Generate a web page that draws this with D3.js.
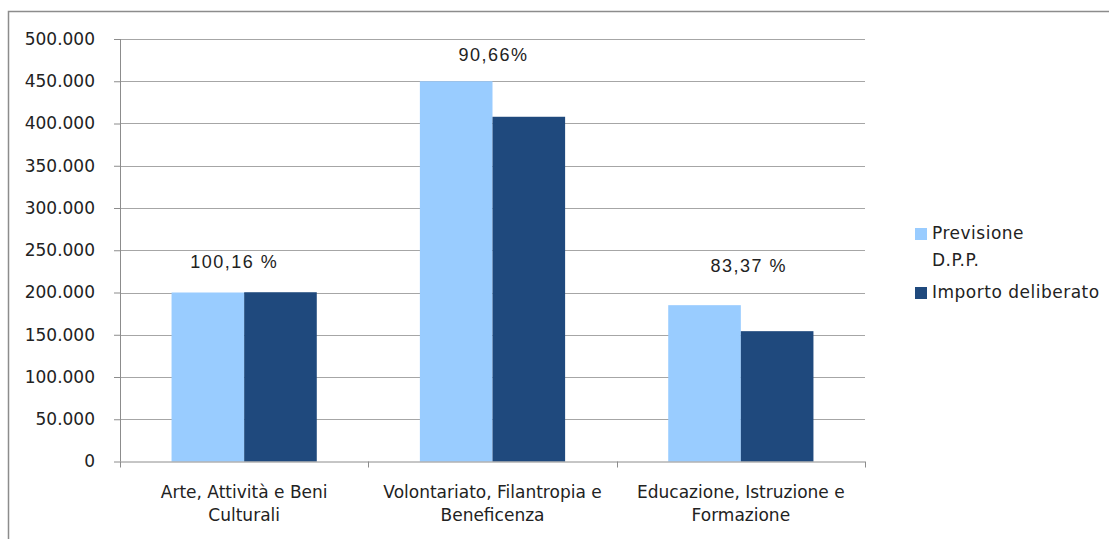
<!DOCTYPE html>
<html>
<head>
<meta charset="utf-8">
<script src="https://cdn.jsdelivr.net/npm/d3@7"></script>
<style>
  body { margin: 0; background: #fff; }
  .axis text { font-family: "DejaVu Sans", sans-serif; font-size: 17px; fill: #222; }
  .axis path, .axis line { stroke: #8c8c8c; }
  .grid line { stroke: #a6a6a6; }
  .pct { font-family: "Liberation Sans", Arial, sans-serif; font-size: 18px; fill: #222; letter-spacing: 1.5px; }
  .legend text { font-family: "DejaVu Sans", sans-serif; font-size: 17px; fill: #222; letter-spacing: 0.5px; }
</style>
</head>
<body>
<script>
// categories and series
var categories = [
  ["Arte, Attività e Beni", "Culturali"],
  ["Volontariato, Filantropia e", "Beneficenza"],
  ["Educazione, Istruzione e", "Formazione"]
];
var seriesNames = [["Previsione", "D.P.P."], ["Importo deliberato"]];
var previsione = [200000, 450000, 185000];
var deliberato = [200320, 407970, 154235];
var percentLabels = ["100,16 %", "90,66%", "83,37 %"];
var yTicks = [0, 50000, 100000, 150000, 200000, 250000, 300000, 350000, 400000, 450000, 500000];

var colors = ["#99ccff", "#1f497d"];

var W = 1109, H = 539;
var margin = {top: 39, left: 120},
    plotW = 745, plotH = 422.5;

var svg = d3.select("body").append("svg")
  .attr("width", W).attr("height", H);

// outer frame
svg.append("rect")
  .attr("x", 8.5).attr("y", 11.5)
  .attr("width", W + 10).attr("height", H + 10)
  .attr("fill", "none").attr("stroke", "#8c8c8c").attr("stroke-width", 1.5);

var g = svg.append("g")
  .attr("transform", "translate(" + margin.left + "," + margin.top + ")");

var x0 = d3.scaleBand().domain(d3.range(categories.length)).range([0, plotW]);
var x1 = d3.scaleBand().domain([0, 1]).range([0, x0.bandwidth()]).paddingOuter(0.71);
var y = d3.scaleLinear().domain([0, 500000]).range([plotH, 0]);

// gridlines
g.append("g").attr("class", "grid")
  .selectAll("line").data(yTicks.slice(1)).enter().append("line")
  .attr("x1", 0).attr("x2", plotW)
  .attr("y1", function(d) { return Math.round(y(d)) + 0.5; })
  .attr("y2", function(d) { return Math.round(y(d)) + 0.5; });

// bars
var groups = g.selectAll(".cat").data(d3.range(categories.length)).enter().append("g")
  .attr("transform", function(i) { return "translate(" + x0(i) + ",0)"; });

groups.selectAll("rect")
  .data(function(i) { return [previsione[i], deliberato[i]]; })
  .enter().append("rect")
  .attr("x", function(d, j) { return x1(j); })
  .attr("width", x1.bandwidth())
  .attr("y", function(d) { return y(d); })
  .attr("height", function(d) { return plotH - y(d); })
  .attr("fill", function(d, j) { return colors[j]; });

// y axis
var yAxis = d3.axisLeft(y).tickValues(yTicks).tickSize(6).tickPadding(19)
  .tickFormat(function(d) { return d3.format(",")(d).replace(/,/g, "."); });
g.append("g").attr("class", "axis").call(yAxis)
  .call(function(s) { s.select(".domain").attr("d", "M0.5,0V" + plotH); });

// x axis with ticks at category boundaries
var xa = g.append("g").attr("class", "axis").attr("transform", "translate(0," + plotH + ")");
xa.append("line").attr("x1", 0).attr("x2", plotW).attr("y1", 0.5).attr("y2", 0.5);
xa.selectAll(".bt").data(d3.range(categories.length + 1)).enter().append("line")
  .attr("x1", function(i) { return Math.round(i * x0.step()) + 0.5; })
  .attr("x2", function(i) { return Math.round(i * x0.step()) + 0.5; })
  .attr("y1", 0).attr("y2", 6);
xa.selectAll(".cl").data(categories).enter().append("text")
  .attr("text-anchor", "middle")
  .attr("transform", function(d, i) { return "translate(" + (x0(i) + x0.bandwidth() / 2) + ",36)"; })
  .selectAll("tspan").data(function(d) { return d; }).enter().append("tspan")
  .attr("x", 0).attr("dy", function(d, k) { return k ? 23 : 0; })
  .text(function(d) { return d; });

// percentage labels
var pctNudge = [[-10, -24], [1, -20], [8, -33]];
g.selectAll(".pct").data(percentLabels).enter().append("text")
  .attr("class", "pct").attr("text-anchor", "middle")
  .attr("x", function(d, i) { return x0(i) + x0.bandwidth() / 2 + pctNudge[i][0]; })
  .attr("y", function(d, i) { return y(Math.max(previsione[i], deliberato[i])) + pctNudge[i][1]; })
  .text(function(d) { return d; });

// legend
var legend = svg.append("g").attr("class", "legend").attr("transform", "translate(915,228)");
var legendRows = [0, 59];
seriesNames.forEach(function(name, i) {
  var row = legend.append("g").attr("transform", "translate(0," + legendRows[i] + ")");
  row.append("rect").attr("width", 12).attr("height", 12).attr("fill", colors[i]);
  row.append("text").attr("x", 17).attr("y", 11)
    .selectAll("tspan").data(name).enter().append("tspan")
    .attr("x", 17).attr("dy", function(d, k) { return k ? 27 : 0; })
    .text(function(d) { return d; });
});
</script>
</body>
</html>
